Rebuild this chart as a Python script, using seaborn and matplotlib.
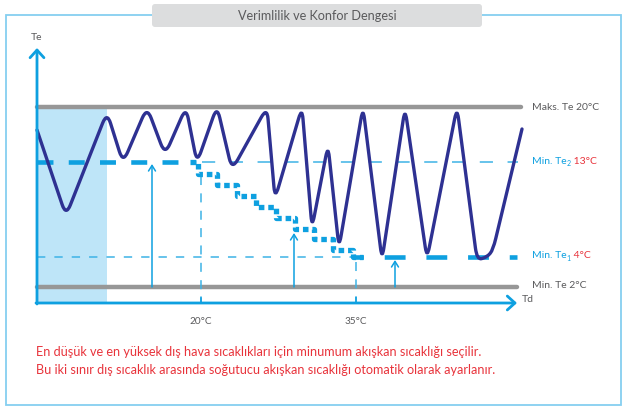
import matplotlib
matplotlib.use("Agg")
import numpy as np
import matplotlib.pyplot as plt
import seaborn as sns
from matplotlib.patches import Rectangle, FancyBboxPatch, PathPatch
from matplotlib.path import Path

sns.set_theme(style="white")
plt.rcParams["font.family"] = ["Lato", "DejaVu Sans"]
plt.rcParams["lines.scale_dashes"] = False

# ---------------- data (schematic chart, canvas units) ----------------
title = "Verimlilik ve Konfor Dengesi"
y_axis_label = "Te"
x_axis_label = "Td"

# Evaporation temperature curve (Te) over outdoor temperature (Td): corner points
curve_td = [37, 66, 107, 123, 147, 165, 186, 197, 217, 232, 267, 275, 302, 312,
            328, 339, 363, 382, 405, 427, 457, 477, 487, 493, 522]
curve_te = [130, 216, 112, 163, 107, 155, 107, 163, 106, 170, 107, 199, 107, 228,
            145, 248, 107, 260, 108, 259, 107, 260, 257, 250, 129]

# Stepwise target temperature between the two outdoor limits
stair_td = [190, 198, 217, 237, 256, 276, 295, 314, 333, 353, 363]
stair_te = [162, 174, 185, 196, 207, 218, 229, 239, 250, 257, 257]

# Levels
level_max_te = 107      # Maks. Te 20°C
level_te2 = 162         # Min. Te2 13°C
level_te1 = 257         # Min. Te1 4°C
level_min_te = 287      # Min. Te 2°C

# Outdoor temperature ticks
tick_td = [201, 356]
tick_labels = ["20°C", "35°C"]

# Arrows from Min Te line up to the target
arrow_td = [152, 294, 395]
arrow_top = [164, 233, 260]

note_lines = [
    "En düşük ve en yüksek dış hava sıcaklıkları için minumum akışkan sıcaklığı seçilir.",
    "Bu iki sınır dış sıcaklık arasında soğutucu akışkan sıcaklığı otomatik olarak ayarlanır.",
]

# ---------------- colours ----------------
NAVY = "#2E3192"
BLUE = "#0EA0E0"
LIGHTBLUE = "#3DB3E6"
SHADE = "#BEE5F8"
GRAY = "#979797"
TXT = "#5A5A5C"
RED = "#E8333B"
FRAME = "#86CFF0"

fig = plt.figure(figsize=(6.26, 4.08), dpi=100)
ax = fig.add_axes([0, 0, 1, 1])
ax.set_xlim(0, 626)
ax.set_ylim(408, 0)
ax.axis("off")

x0, x_end = 37, 517
y_axis_base, y_axis_top = 303, 48

# frame
ax.add_patch(Rectangle((6, 15), 615, 390, fill=False, edgecolor=FRAME, lw=1.3, zorder=1))
# title box
ax.add_patch(FancyBboxPatch((152, 4), 330, 23, boxstyle="round,pad=0,rounding_size=3",
                            facecolor="#DCDDDE", edgecolor="none", zorder=2))
ax.text(317, 15.5, title, ha="center", va="center", fontsize=9.1, color=TXT, zorder=3)

# shaded region
ax.add_patch(Rectangle((x0, level_max_te), 107 - x0, y_axis_base - level_max_te,
                       facecolor=SHADE, edgecolor="none", zorder=1))

# gray limit lines
sns.lineplot(x=[x0, 521], y=[level_max_te, level_max_te], color=GRAY, lw=3.2, ax=ax,
             estimator=None, sort=False, zorder=2)
sns.lineplot(x=[x0, 517], y=[level_min_te, level_min_te], color=GRAY, lw=3.2, ax=ax,
             estimator=None, sort=False, zorder=2)

# thin dashed level lines
ax.plot([202, 518], [level_te2, level_te2], color=LIGHTBLUE, lw=1.1,
        linestyle=(0, (9.5, 10.5)), zorder=2)
ax.plot([x0, 357], [level_te1, level_te1], color=LIGHTBLUE, lw=1.1,
        linestyle=(0, (6, 6.5)), zorder=2)

# thick dashed segments
ax.plot([x0, 196], [level_te2, level_te2], color=BLUE, lw=3.3,
        linestyle=(0, (11.5, 11)), zorder=3)
ax.plot([353, 517], [level_te1, level_te1], color=BLUE, lw=3.3,
        linestyle=(7.5, (15, 15)), zorder=3)

# staircase
sns.lineplot(x=stair_td, y=stair_te, drawstyle="steps-post", color=BLUE, lw=3.8,
             linestyle=(0, (4.0, 2.8)), ax=ax, estimator=None, sort=False, zorder=3)

# dashed vertical guides at the two outdoor limits
for xt, ytop in zip(tick_td, [176, 262]):
    ax.plot([xt, xt], [ytop, y_axis_base], color=LIGHTBLUE, lw=1.1,
            linestyle=(0, (6.5, 6)), zorder=2)
    ax.plot([xt, xt], [y_axis_base - 6, y_axis_base], color=BLUE, lw=1.1, zorder=2)

# vertical arrows
for xa, ya in zip(arrow_td, arrow_top):
    ax.annotate("", xy=(xa, ya), xytext=(xa, level_min_te),
                arrowprops=dict(arrowstyle="->,head_length=0.4,head_width=0.25",
                                color=BLUE, lw=1.1, shrinkA=0, shrinkB=0,
                                mutation_scale=10), zorder=2)


# main curve: polyline through the corner points with rounded corners
def rounded_path(xs, ys, r=12.0, frac=0.45):
    pts = np.column_stack([xs, ys]).astype(float)
    verts = [pts[0]]
    codes = [Path.MOVETO]
    for i in range(1, len(pts) - 1):
        p, v, n = pts[i - 1], pts[i], pts[i + 1]
        d1, d2 = p - v, n - v
        l1, l2 = np.hypot(*d1), np.hypot(*d2)
        a = v + d1 / l1 * min(r, frac * l1)
        b = v + d2 / l2 * min(r, frac * l2)
        verts += [a, v, b]
        codes += [Path.LINETO, Path.CURVE3, Path.CURVE3]
    verts.append(pts[-1])
    codes.append(Path.LINETO)
    return Path(verts, codes)


ax.add_patch(PathPatch(rounded_path(curve_td, curve_te), facecolor="none",
                       edgecolor=NAVY, lw=2.4, capstyle="round", joinstyle="round",
                       zorder=4))

# axes arrows
ax.annotate("", xy=(x0, y_axis_top), xytext=(x0, y_axis_base + 1),
            arrowprops=dict(arrowstyle="->,head_length=0.55,head_width=0.5",
                            color=BLUE, lw=2, shrinkA=0, shrinkB=0, mutation_scale=10),
            zorder=5)
ax.annotate("", xy=(x_end, y_axis_base), xytext=(x0 - 1, y_axis_base),
            arrowprops=dict(arrowstyle="->,head_length=0.55,head_width=0.5",
                            color=BLUE, lw=2, shrinkA=0, shrinkB=0, mutation_scale=10),
            zorder=5)
ax.text(x0, 38, y_axis_label, ha="center", va="center", fontsize=7.5, color=TXT)
ax.text(522, 299, x_axis_label, ha="left", va="center", fontsize=7.5, color=TXT)

for xt, lab in zip(tick_td, tick_labels):
    ax.text(xt, 322, lab, ha="center", va="center", fontsize=7.2, color=TXT)

# right-hand labels (multi-coloured)
fig.canvas.draw()
renderer = fig.canvas.get_renderer()


def rich(x, y, parts):
    for s, color, size, dy in parts:
        t = ax.text(x, y + dy, s, color=color, fontsize=size, ha="left", va="center")
        bb = t.get_window_extent(renderer=renderer)
        x += bb.width


rich(532, level_max_te, [("Maks. Te 20°C", TXT, 7.5, 0)])
rich(532, level_te2 - 1, [("Min. Te", BLUE, 7.5, 0), ("2", BLUE, 5, 2.5),
                          (" 13°C", RED, 7.5, 0)])
rich(532, level_te1 - 1, [("Min. Te", BLUE, 7.5, 0), ("1", BLUE, 5, 2.5),
                          (" 4°C", RED, 7.5, 0)])
rich(532, level_min_te - 1, [("Min. Te 2°C", TXT, 7.5, 0)])

# notes
for i, line in enumerate(note_lines):
    ax.text(36, 352 + 18 * i, line, ha="left", va="center", fontsize=9.1, color=RED)

fig.savefig("out.png", dpi=100)
